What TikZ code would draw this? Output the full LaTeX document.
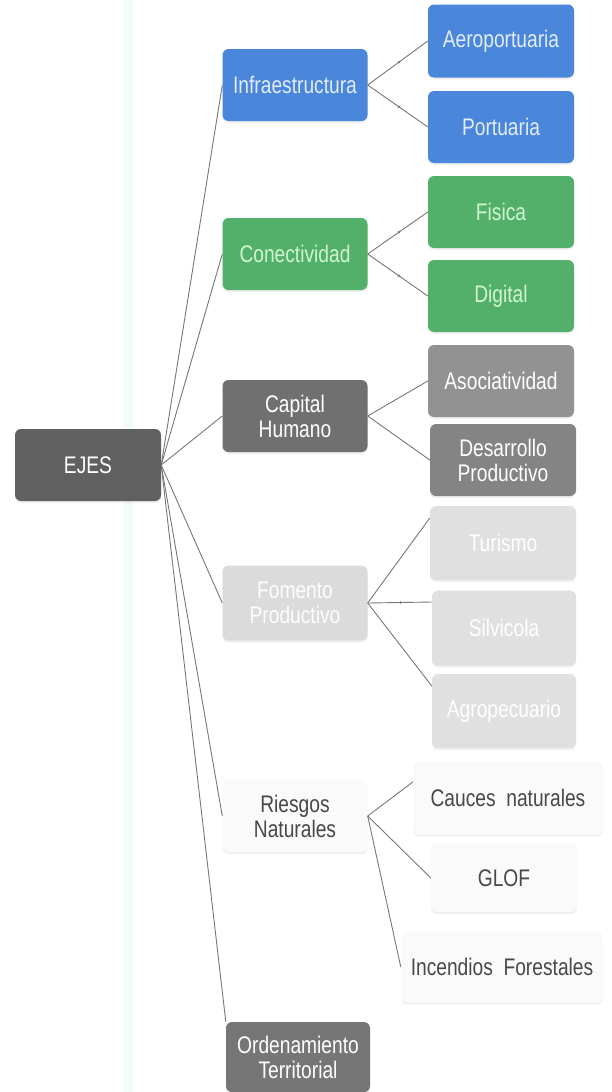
\documentclass[tikz,border=0pt]{standalone}
\usepackage{fontspec}
\newfontfamily\boxfont[FakeStretch=0.8]{Liberation Sans}
\usetikzlibrary{shadows,decorations.markings,arrows.meta}

\definecolor{ejesgray}{RGB}{96,96,96}
\definecolor{infblue}{RGB}{74,134,218}
\definecolor{infblueT}{RGB}{226,236,252}
\definecolor{congreen}{RGB}{82,176,106}
\definecolor{congreenT}{RGB}{208,246,208}
\definecolor{capgray}{RGB}{112,112,112}
\definecolor{asogray}{RGB}{146,146,146}
\definecolor{desgray}{RGB}{132,132,132}
\definecolor{fomgray}{RGB}{219,219,219}
\definecolor{riewhite}{RGB}{250,250,250}
\definecolor{rietext}{RGB}{72,72,72}
\definecolor{ordgray}{RGB}{118,118,118}
\definecolor{linkgray}{RGB}{118,118,118}
\definecolor{edgecyan}{RGB}{244,252,251}

\tikzset{
  box/.style={rounded corners=6pt, minimum width=145pt, minimum height=72pt, align=center, inner sep=2pt,
    font=\boxfont\fontsize{24}{25}\selectfont, text=white,
    drop shadow={shadow xshift=0pt, shadow yshift=-2pt, opacity=0.12}},
  link/.style={draw=linkgray, line width=0.9pt},
  midmark/.style={postaction={decorate}, decoration={markings, mark=at position 0.55 with {\arrow[linkgray]{Latex[length=3pt,width=3pt]}}}}
}

\begin{document}
\begin{tikzpicture}[x=1pt,y=-1pt]
\useasboundingbox (0,0) rectangle (611,1092);

%Shape: page edge
\fill [edgecyan] (124,0) rectangle (134,1092);

% Text Node
\node [box, fill=ejesgray, minimum width=146pt] (ejes) at (88,465) {EJES};
% Text Node
\node [box, fill=infblue, text=infblueT] (inf) at (295,85) {Infraestructura};
\node [box, fill=infblue, text=infblueT, minimum width=146pt, minimum height=73pt] (aer) at (501,41) {Aeroportuaria};
\node [box, fill=infblue, text=infblueT, minimum width=146pt] (por) at (501,127) {Portuaria};
% Text Node
\node [box, fill=congreen, text=congreenT] (con) at (295,254) {Conectividad};
\node [box, fill=congreen, text=congreenT, minimum width=146pt] (fis) at (501,212) {Fisica};
\node [box, fill=congreen, text=congreenT, minimum width=146pt] (dig) at (501,296) {Digital};
% Text Node
\node [box, fill=capgray] (cap) at (295,416) {Capital\\Humano};
\node [box, fill=asogray, minimum width=146pt] (aso) at (501,381) {Asociatividad};
\node [box, fill=desgray, minimum width=146pt] (des) at (503,460) {Desarrollo\\Productivo};
% Text Node
\node [box, fill=fomgray, text=white!94!fomgray, minimum height=75pt] (fom) at (295,603) {Fomento\\Productivo};
\node [box, fill=fomgray!85!white, text=white, minimum width=146pt, minimum height=74pt] (tur) at (503,543) {Turismo};
\node [box, fill=fomgray!85!white, text=white, minimum width=144pt, minimum height=75pt] (sil) at (504,628) {Silvicola};
\node [box, fill=fomgray!85!white, text=white, minimum width=144pt, minimum height=74pt] (agr) at (504,711) {Agropecuario};
% Text Node
\node [box, fill=riewhite, text=rietext] (rie) at (295,816) {Riesgos\\Naturales};
\node [box, fill=riewhite, text=rietext, minimum width=190pt, minimum height=73pt] (cau) at (508,798) {Cauces~~naturales};
\node [box, fill=riewhite, text=rietext, minimum width=146pt, minimum height=68pt] (glo) at (504,878) {GLOF};
\node [box, fill=riewhite, text=rietext, minimum width=202pt, minimum height=71pt] (inc) at (502,967) {Incendios~~Forestales};
% Text Node
\node [box, fill=ordgray, minimum width=144pt, minimum height=70pt] (ord) at (298,1057) {Ordenamiento\\Territorial};

%Straight Lines
\draw [link] (ejes.east) -- (inf.west);
\draw [link] (ejes.east) -- (con.west);
\draw [link] (ejes.east) -- (cap.west);
\draw [link] (ejes.east) -- (fom.west);
\draw [link] (ejes.east) -- (rie.west);
\draw [link] (ejes.east) -- (ord.north west);

%Straight Lines
\draw [link, midmark] (inf.east) -- (aer.west);
\draw [link, midmark] (inf.east) -- (por.west);
\draw [link, midmark] (con.east) -- (fis.west);
\draw [link, midmark] (con.east) -- (dig.west);
\draw [link] (cap.east) -- (aso.west);
\draw [link] (cap.east) -- (des.west);
\draw [link] (fom.east) -- ([yshift=25pt]tur.west);
\draw [link, midmark] (fom.east) -- ([yshift=26pt]sil.west);
\draw [link] (fom.east) -- ([yshift=25pt]agr.west);
\draw [link] (rie.east) -- ([yshift=16pt]cau.west);
\draw [link] (rie.east) -- (glo.west);
\draw [link] (rie.east) -- (inc.west);

\end{tikzpicture}
\end{document}
